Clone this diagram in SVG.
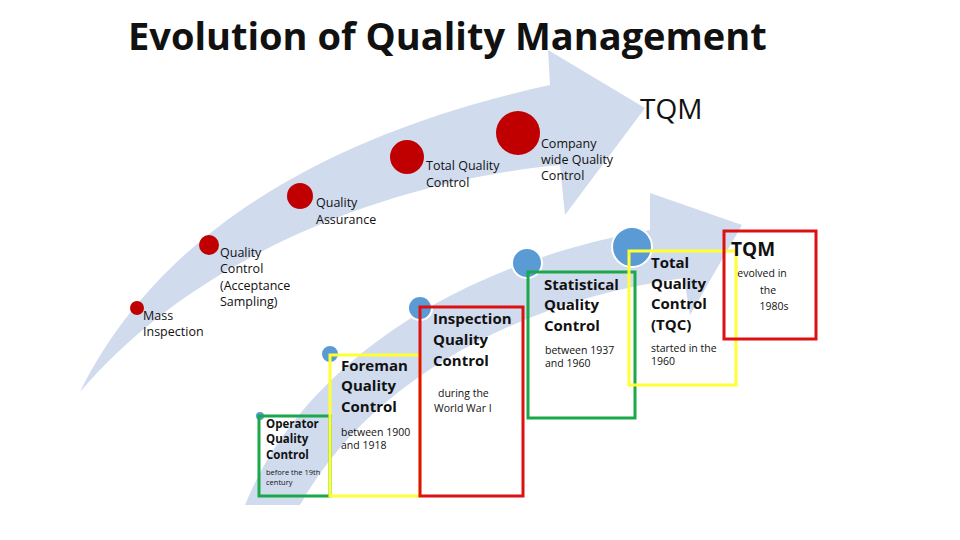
<svg xmlns="http://www.w3.org/2000/svg" width="960" height="540" viewBox="0 0 960 540">
<style>
text{font-family:"Open Sans","Noto Sans","Liberation Sans",sans-serif;fill:#111}
.s{font-size:12.5px}.b{font-size:15px;font-weight:bold}.xs{font-size:7.5px}.d{font-size:10.5px}
.arr{fill:#d0dbee}
.red{fill:#c00000}.blue{fill:#5b9bd5;stroke:#fff;stroke-width:2}
.box{fill:none;stroke-width:3}
</style>
<rect width="960" height="540" fill="#fff"/>
<g id="arrows">
<path class="arr" d="M80,392 C150,250 300,140 550,85 L548,50 L645,108 L565,215 L560,165 C400,180 200,250 80,392 Z"/>
<path class="arr" d="M245,505 C300,370 450,265 650,230 L650,193 L742,225 L690,315 L684,278 C520,300 370,380 300,505 Z"/>
</g>
<text x="128" y="50" style="font-size:38px;font-weight:bold">Evolution of Quality Management</text>
<text x="640" y="119" style="font-size:28px">TQM</text>
<g id="mass"><circle class="red" cx="137" cy="308" r="7"/><text class="s" x="143" y="320">Mass</text><text class="s" x="143" y="336">Inspection</text></g>
<g id="qc"><circle class="red" cx="209" cy="245" r="10"/><text class="s" x="220" y="257">Quality</text><text class="s" x="220" y="273">Control</text><text class="s" x="220" y="290">(Acceptance</text><text class="s" x="220" y="306">Sampling)</text></g>
<g id="qa"><circle class="red" cx="300" cy="196" r="13"/><text class="s" x="316" y="207">Quality</text><text class="s" x="316" y="224">Assurance</text></g>
<g id="tqc1"><circle class="red" cx="407" cy="157" r="17"/><text class="s" x="426" y="170">Total Quality</text><text class="s" x="426" y="187">Control</text></g>
<g id="cwqc"><circle class="red" cx="518" cy="133" r="22"/><text class="s" x="541" y="148">Company</text><text class="s" x="541" y="164">wide Quality</text><text class="s" x="541" y="180">Control</text></g>
<g id="operator"><circle class="blue" cx="260" cy="416" r="5"/><rect class="box" x="259" y="416" width="71" height="80" stroke="#1aa84a"/><text x="266" y="428" style="font-size:11.5px;font-weight:bold">Operator</text><text x="266" y="443" style="font-size:11.5px;font-weight:bold">Quality</text><text x="266" y="459" style="font-size:11.5px;font-weight:bold">Control</text><text class="xs" x="266" y="475">before the 19th</text><text class="xs" x="266" y="485">century</text></g>
<g id="foreman"><circle class="blue" cx="330" cy="354" r="9"/><rect class="box" x="330" y="355" width="90" height="141" stroke="#ffff33"/><text class="b" x="341" y="371">Foreman</text><text class="b" x="341" y="391">Quality</text><text class="b" x="341" y="412">Control</text><text class="d" x="341" y="436">between 1900</text><text class="d" x="341" y="449">and 1918</text></g>
<g id="inspection"><circle class="blue" cx="420" cy="308" r="12"/><rect class="box" x="420" y="307" width="103" height="189" stroke="#dd1111"/><text class="b" x="433" y="324">Inspection</text><text class="b" x="433" y="345">Quality</text><text class="b" x="433" y="366">Control</text><text class="d" x="438" y="397">during the</text><text class="d" x="434" y="412">World War I</text></g>
<g id="statistical"><circle class="blue" cx="527" cy="263" r="15"/><rect class="box" x="528" y="272" width="107" height="146" stroke="#1aa84a"/><text class="b" x="544" y="290">Statistical</text><text class="b" x="544" y="310">Quality</text><text class="b" x="544" y="331">Control</text><text class="d" x="545" y="354">between 1937</text><text class="d" x="545" y="367">and 1960</text></g>
<g id="tqc"><circle class="blue" cx="632" cy="247" r="20"/><rect class="box" x="629" y="251" width="107" height="134" stroke="#ffff33"/><text class="b" x="651" y="268">Total</text><text class="b" x="651" y="289">Quality</text><text class="b" x="651" y="309">Control</text><text class="b" x="651" y="330">(TQC)</text><text class="d" x="651" y="352">started in the</text><text class="d" x="651" y="365">1960</text></g>
<g id="tqm"><rect class="box" x="724" y="231" width="92" height="108" stroke="#dd1111"/><text x="731" y="256" style="font-size:19px;font-weight:bold">TQM</text><text class="d" x="762" y="277" text-anchor="middle">evolved in</text><text class="d" x="768" y="294" text-anchor="middle">the</text><text class="d" x="774" y="310" text-anchor="middle">1980s</text></g>
</svg>
